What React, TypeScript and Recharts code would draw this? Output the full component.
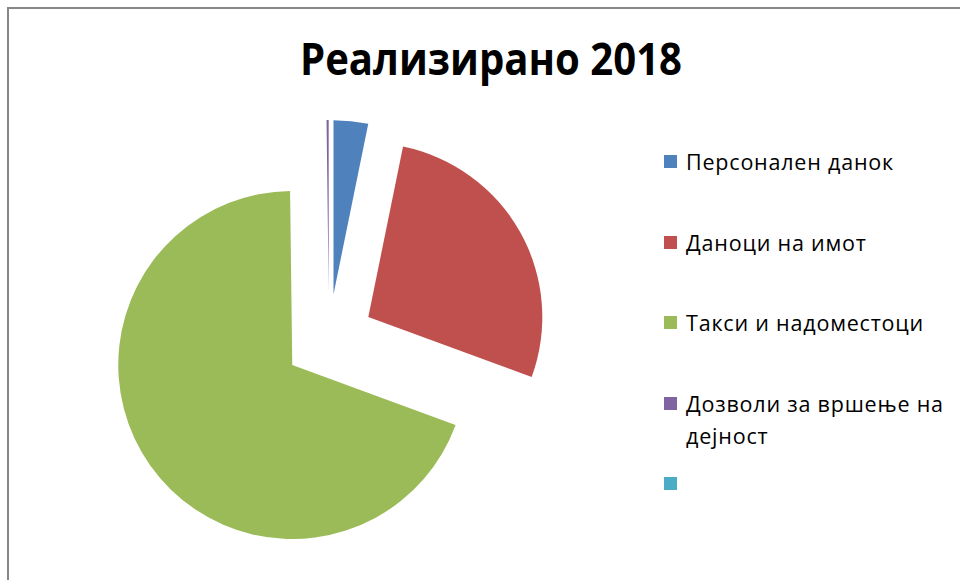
import { PieChart, Pie, Cell, Legend, Sector } from 'recharts'

const TITLE = 'Реализирано 2018'
const CATEGORIES = [
  'Персонален данок',
  'Даноци на имот',
  'Такси и надоместоци',
  'Дозволи за вршење на дејност',
  '',
]
const VALUES = [3.2, 27.4, 69.2, 0.2, 0]
const COLORS = ['#4F81BD', '#C0504D', '#9BBB59', '#8064A2', '#4BACC6']

const data = CATEGORIES.map((name, i) => ({ name, value: VALUES[i] }))

const EXPLODE = 45
const RAD = Math.PI / 180
const FONT = '"Open Sans", "Noto Sans", sans-serif'

// each slice pushed out along its own mid angle (excel "explosion")
// eslint-disable-next-line @typescript-eslint/no-explicit-any
function ExplodedSlice(props: any) {
  const { cx, cy, midAngle, innerRadius, outerRadius, startAngle, endAngle, fill } = props
  if (startAngle === endAngle) return null
  const dx = EXPLODE * Math.cos(-midAngle * RAD)
  const dy = EXPLODE * Math.sin(-midAngle * RAD)
  return (
    <Sector
      cx={cx + dx}
      cy={cy + dy}
      innerRadius={innerRadius}
      outerRadius={outerRadius}
      startAngle={startAngle}
      endAngle={endAngle}
      fill={fill}
      stroke="none"
    />
  )
}

function LegendBox() {
  return (
    <div style={{ fontFamily: FONT }}>
      {CATEGORIES.map((name, i) => (
        <div key={i} style={{ height: 80.5, display: 'flex', alignItems: 'flex-start' }}>
          <div style={{ width: 13, height: 13, marginTop: 9, marginRight: 9, flex: 'none', backgroundColor: COLORS[i] }} />
          <div style={{ fontSize: 21.5, lineHeight: '32px', letterSpacing: 0.8, width: 272, color: '#000' }}>{name}</div>
        </div>
      ))}
    </div>
  )
}

export default function App() {
  return (
    <div style={{ position: 'absolute', left: 0, top: 0, width: 960, height: 580, overflow: 'hidden', background: '#fff' }}>
      <div style={{ position: 'absolute', left: 7, top: 7, width: 1000, height: 1000, border: '2px solid #878787' }} />
      <svg style={{ position: 'absolute', left: 0, top: 0 }} width={960} height={100}>
        <text x={491} y={75} textAnchor="middle" fontFamily={FONT} fontWeight={700} fontSize={44}
          textLength={382} lengthAdjust="spacingAndGlyphs" fill="#000">{TITLE}</text>
      </svg>
      <div style={{ position: 'absolute', left: 0, top: 0 }}>
        <PieChart width={960} height={580} margin={{ top: 0, right: 0, bottom: 0, left: 0 }}>
          <Pie
            data={data}
            dataKey="value"
            nameKey="name"
            cx={329}
            cy={339}
            outerRadius={174}
            startAngle={90}
            endAngle={-270}
            stroke="none"
            shape={ExplodedSlice}
            isAnimationActive={false}
          >
            {data.map((d, i) => <Cell key={d.name + i} fill={COLORS[i]} />)}
          </Pie>
          <Legend
            layout="vertical"
            align="right"
            verticalAlign="top"
            content={<LegendBox />}
            wrapperStyle={{ left: 664, top: 146, width: 294 }}
          />
        </PieChart>
      </div>
    </div>
  )
}
